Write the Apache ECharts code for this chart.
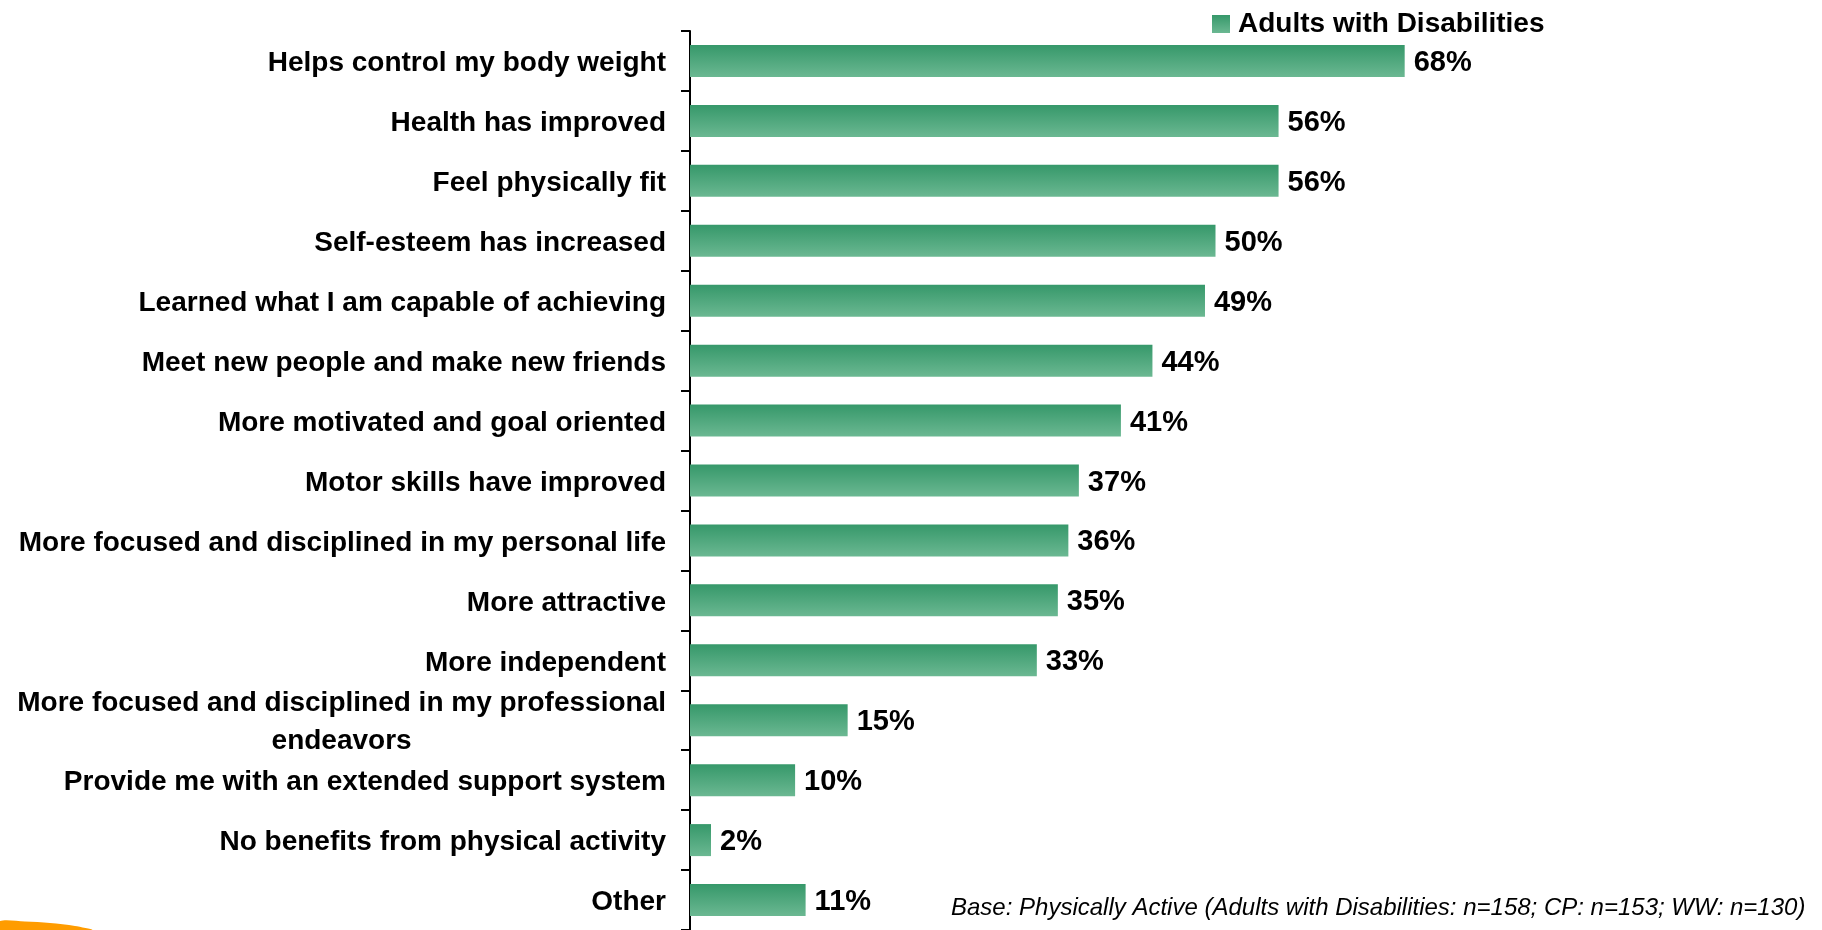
<!DOCTYPE html>
<html>
<head>
<meta charset="utf-8">
<script src="https://cdn.jsdelivr.net/npm/echarts@6/dist/echarts.min.js"></script>
<style>
  html, body { margin: 0; padding: 0; background: #ffffff; }
  #chart { width: 1822px; height: 930px; }
</style>
</head>
<body>
<div id="chart"></div>
<script>
// Benefits of physical activity, listed top to bottom
const categories = [
  'Helps control my body weight',
  'Health has improved',
  'Feel physically fit',
  'Self-esteem has increased',
  'Learned what I am capable of achieving',
  'Meet new people and make new friends',
  'More motivated and goal oriented',
  'Motor skills have improved',
  'More focused and disciplined in my personal life',
  'More attractive',
  'More independent',
  'More focused and disciplined in my professional\nendeavors',
  'Provide me with an extended support system',
  'No benefits from physical activity',
  'Other'
];

// Share of respondents (%)
const adultsWithDisabilities = [68, 56, 56, 50, 49, 44, 41, 37, 36, 35, 33, 15, 10, 2, 11];

const seriesName = 'Adults with Disabilities';
const baseNote = 'Base: Physically Active (Adults with Disabilities: n=158; CP: n=153; WW: n=130)';

const FONT = '"Liberation Sans", Arial, sans-serif';

const barFill = new echarts.graphic.LinearGradient(0, 0, 0, 1, [
  { offset: 0, color: '#36986a' },
  { offset: 1, color: '#6bb892' }
]);

const chart = echarts.init(document.getElementById('chart'), null, { renderer: 'canvas' });

chart.setOption({
  backgroundColor: '#ffffff',
  animation: false,
  legend: {
    data: [seriesName],
    left: 1212,
    top: 10,
    padding: 0,
    icon: 'rect',
    itemWidth: 18,
    itemHeight: 18,
    itemGap: 10,
    textStyle: { fontFamily: FONT, fontWeight: 'bold', fontSize: 28, color: '#000000', padding: [3, 0, 0, 3] }
  },
  grid: { left: 690, top: 31, width: 1051, height: 900, containLabel: false },
  xAxis: {
    type: 'value',
    min: 0,
    max: 100,
    show: false
  },
  yAxis: {
    type: 'category',
    data: categories,
    inverse: true,
    axisLine: { show: true, lineStyle: { color: '#000000', width: 2 } },
    axisTick: { show: true, length: 9, interval: 0, lineStyle: { color: '#000000', width: 2 } },
    axisLabel: {
      interval: 0,
      margin: 24,
      color: '#000000',
      fontFamily: FONT,
      fontWeight: 'bold',
      fontSize: 28,
      lineHeight: 38,
      padding: [5, 0, 0, 0],
      formatter: function (v) {
        if (v.indexOf('\n') >= 0) {
          return v.split('\n').map(function (s) { return '{c|' + s + '}'; }).join('\n');
        }
        return v;
      },
      rich: {
        c: {
          align: 'center',
          fontFamily: FONT,
          fontWeight: 'bold',
          fontSize: 28,
          lineHeight: 38,
          color: '#000000'
        }
      }
    },
    splitLine: { show: false }
  },
  series: [{
    name: seriesName,
    type: 'bar',
    data: adultsWithDisabilities,
    barWidth: 32,
    itemStyle: { color: barFill },
    label: {
      show: true,
      position: 'right',
      distance: 9,
      offset: [0, 2],
      formatter: '{c}%',
      color: '#000000',
      fontFamily: FONT,
      fontWeight: 'bold',
      fontSize: 29
    }
  }],
  graphic: [
    {
      type: 'text',
      left: 951,
      top: 896,
      style: {
        text: baseNote,
        font: 'italic 24px "Liberation Sans", Arial, sans-serif',
        fill: '#000000'
      }
    },
    {
      type: 'polygon',
      shape: {
        points: [[0, 921], [25, 921.5], [50, 923], [75, 926], [92, 930], [0, 930]],
        smooth: 0.3
      },
      style: { fill: '#ff9c00' }
    }
  ]
});
</script>
</body>
</html>
